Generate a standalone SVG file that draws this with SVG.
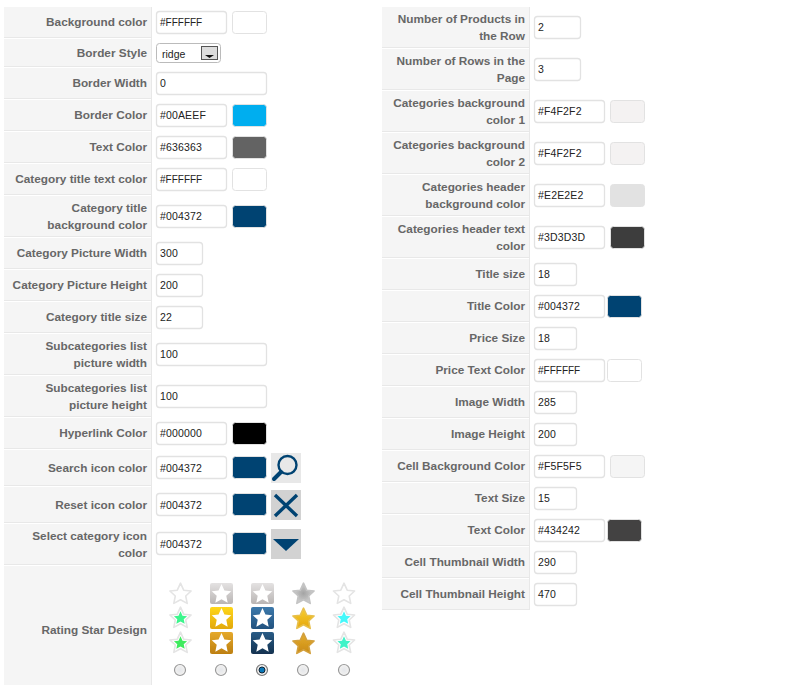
<svg xmlns="http://www.w3.org/2000/svg" width="793" height="685" viewBox="0 0 793 685">
<style>
text{font-family:"Liberation Sans",Arial,sans-serif}
.bg{fill:#f5f5f5}
.sep{stroke:#e8e8e8;stroke-width:1;fill:none}
.l{font-size:11.8px;font-weight:bold;fill:#676767;text-anchor:end}
.i{fill:#fff;stroke:#e2e2e2;stroke-width:1.3}
.v{font-size:10.5px;fill:#222;letter-spacing:.15px}
.f{font-size:10px;letter-spacing:0}
.s{stroke:#e2e2e2;stroke-width:1}
</style>
<defs>
<path id="sp" d="M0-10.8 3.2-3.8 10.6-3 5.2 2 6.700 9.400 0 5.700-6.700 9.400-5.200 2-10.600-3-3.200-3.800Z" stroke-linejoin="round"/>
<filter id="soft" x="-10%" y="-10%" width="120%" height="120%"><feGaussianBlur stdDeviation="0.4"/></filter>
<linearGradient id="gy" x1="0" y1="0" x2="0" y2="1"><stop offset="0" stop-color="#e4e2e2"/><stop offset="1" stop-color="#b9b5b4"/></linearGradient>
<linearGradient id="ye" x1="0" y1="0" x2="0" y2="1"><stop offset="0" stop-color="#ffd71a"/><stop offset="1" stop-color="#e2a80c"/></linearGradient>
<linearGradient id="or" x1="0" y1="0" x2="0" y2="1"><stop offset="0" stop-color="#e5a92b"/><stop offset="1" stop-color="#bd7f10"/></linearGradient>
<linearGradient id="bl" x1="0" y1="0" x2="0" y2="1"><stop offset="0" stop-color="#3d79ab"/><stop offset="1" stop-color="#22527f"/></linearGradient>
<linearGradient id="nv" x1="0" y1="0" x2="0" y2="1"><stop offset="0" stop-color="#2a5c86"/><stop offset="1" stop-color="#143250"/></linearGradient>
<radialGradient id="sg"><stop offset="0" stop-color="#a4a4a4"/><stop offset="1" stop-color="#cfcfcf"/></radialGradient>
<linearGradient id="sy" x1="0" y1="0" x2="0" y2="1"><stop offset="0" stop-color="#f8cf2a"/><stop offset="1" stop-color="#e5a611"/></linearGradient>
<linearGradient id="so" x1="0" y1="0" x2="0" y2="1"><stop offset="0" stop-color="#e6ae2c"/><stop offset="1" stop-color="#c98a14"/></linearGradient>
<radialGradient id="r"><stop offset="0" stop-color="#e4e6ea"/><stop offset="0.7" stop-color="#eeeeee"/><stop offset="1" stop-color="#fafafa"/></radialGradient>
<g id="radio"><circle r="5.500" fill="url(#r)" stroke="#9a9a9a" stroke-width="1.200"/></g>
</defs>
<rect width="793" height="685" fill="#fff"/>

<g id="left-rows" class="bg">
<rect x="4" y="7" width="147" height="30"/><rect x="4" y="39" width="147" height="27"/><rect x="4" y="68" width="147" height="30"/><rect x="4" y="100" width="147" height="30"/><rect x="4" y="132" width="147" height="30"/><rect x="4" y="164" width="147" height="30"/><rect x="4" y="196" width="147" height="40"/><rect x="4" y="238" width="147" height="30"/><rect x="4" y="270" width="147" height="30"/><rect x="4" y="302" width="147" height="30"/><rect x="4" y="334" width="147" height="40"/><rect x="4" y="376" width="147" height="40"/><rect x="4" y="418" width="147" height="30"/><rect x="4" y="450" width="147" height="35"/><rect x="4" y="487" width="147" height="35"/><rect x="4" y="524" width="147" height="40"/><rect x="4" y="566" width="147" height="119"/>
</g>
<g id="right-rows" class="bg">
<rect x="382" y="7" width="147" height="40"/><rect x="382" y="49" width="147" height="40"/><rect x="382" y="91" width="147" height="40"/><rect x="382" y="133" width="147" height="40"/><rect x="382" y="175" width="147" height="40"/><rect x="382" y="217" width="147" height="40"/><rect x="382" y="259" width="147" height="30"/><rect x="382" y="291" width="147" height="30"/><rect x="382" y="323" width="147" height="30"/><rect x="382" y="355" width="147" height="30"/><rect x="382" y="387" width="147" height="30"/><rect x="382" y="419" width="147" height="30"/><rect x="382" y="451" width="147" height="30"/><rect x="382" y="483" width="147" height="30"/><rect x="382" y="515" width="147" height="30"/><rect x="382" y="547" width="147" height="30"/><rect x="382" y="579" width="147" height="30"/>
</g>
<path class="sep" d="M4 37.500H151M4 66.500H151M4 98.500H151M4 130.500H151M4 162.500H151M4 194.500H151M4 236.500H151M4 268.500H151M4 300.500H151M4 332.500H151M4 374.500H151M4 416.500H151M4 448.500H151M4 485.500H151M4 522.500H151M4 564.500H151M151.500 7V685"/>
<path class="sep" d="M382 47.500H529M382 89.500H529M382 131.500H529M382 173.500H529M382 215.500H529M382 257.500H529M382 289.500H529M382 321.500H529M382 353.500H529M382 385.500H529M382 417.500H529M382 449.500H529M382 481.500H529M382 513.500H529M382 545.500H529M382 577.500H529M382 609.500H529M529.500 7V610"/>

<g id="background-color"><text class="l" x="147" y="26">Background color</text><rect class="i" x="156.500" y="11.500" width="70" height="22" rx="3"/><text class="v f" x="160" y="26">#FFFFFF</text><rect class="s" x="232.500" y="11.500" width="34" height="22" rx="3" fill="#fff"/></g>
<g id="border-style"><text class="l" x="147" y="57">Border Style</text><rect x="156.500" y="43.500" width="64" height="19" rx="3" fill="#fff" stroke="#bbb"/><text x="162" y="58" font-size="10.500" fill="#222">ridge</text><rect x="201.500" y="46.500" width="16" height="13" fill="#ddd" stroke="#555"/><path d="M205 55h9l-4.500 3z" fill="#111"/></g>
<g id="border-width"><text class="l" x="147" y="87">Border Width</text><rect class="i" x="156.500" y="72.500" width="110" height="22" rx="3"/><text class="v" x="160" y="87">0</text></g>
<g id="border-color"><text class="l" x="147" y="119">Border Color</text><rect class="i" x="156.500" y="104.500" width="70" height="22" rx="3"/><text class="v" x="160" y="119">#00AEEF</text><rect class="s" x="232.500" y="104.500" width="34" height="22" rx="3" fill="#00aeef"/></g>
<g id="text-color"><text class="l" x="147" y="151">Text Color</text><rect class="i" x="156.500" y="136.500" width="70" height="22" rx="3"/><text class="v" x="160" y="151">#636363</text><rect class="s" x="232.500" y="136.500" width="34" height="22" rx="3" fill="#636363"/></g>
<g id="category-title-text-color"><text class="l" x="147" y="183">Category title text color</text><rect class="i" x="156.500" y="168.500" width="70" height="22" rx="3"/><text class="v f" x="160" y="183">#FFFFFF</text><rect class="s" x="232.500" y="168.500" width="34" height="22" rx="3" fill="#fff"/></g>
<g id="category-title-background-color"><text class="l" x="147" y="212">Category title</text><text class="l" x="147" y="229">background color</text><rect class="i" x="156.500" y="205.500" width="70" height="22" rx="3"/><text class="v" x="160" y="220">#004372</text><rect class="s" x="232.500" y="205.500" width="34" height="22" rx="3" fill="#004372"/></g>
<g id="category-picture-width"><text class="l" x="147" y="257">Category Picture Width</text><rect class="i" x="156.500" y="242.500" width="46" height="22" rx="3"/><text class="v" x="160" y="257">300</text></g>
<g id="category-picture-height"><text class="l" x="147" y="289">Category Picture Height</text><rect class="i" x="156.500" y="274.500" width="46" height="22" rx="3"/><text class="v" x="160" y="289">200</text></g>
<g id="category-title-size"><text class="l" x="147" y="321">Category title size</text><rect class="i" x="156.500" y="306.500" width="46" height="22" rx="3"/><text class="v" x="160" y="321">22</text></g>
<g id="subcategories-width"><text class="l" x="147" y="350">Subcategories list</text><text class="l" x="147" y="367">picture width</text><rect class="i" x="156.500" y="343.500" width="110" height="22" rx="3"/><text class="v" x="160" y="358">100</text></g>
<g id="subcategories-height"><text class="l" x="147" y="392">Subcategories list</text><text class="l" x="147" y="409">picture height</text><rect class="i" x="156.500" y="385.500" width="110" height="22" rx="3"/><text class="v" x="160" y="400">100</text></g>
<g id="hyperlink-color"><text class="l" x="147" y="437">Hyperlink Color</text><rect class="i" x="156.500" y="422.500" width="70" height="22" rx="3"/><text class="v" x="160" y="437">#000000</text><rect class="s" x="232.500" y="422.500" width="34" height="22" rx="3" fill="#000"/></g>
<g id="search-icon-color"><text class="l" x="147" y="472">Search icon color</text><rect class="i" x="156.500" y="456.500" width="70" height="22" rx="3"/><text class="v" x="160" y="472">#004372</text><rect class="s" x="232.500" y="456.500" width="34" height="22" rx="3" fill="#004372"/><rect x="271" y="453" width="30" height="30" fill="#e8e8e8"/><circle cx="287.500" cy="465" r="9" fill="none" stroke="#004372" stroke-width="2.400"/><path d="M281 472 274 479" stroke="#004372" stroke-width="4" stroke-linecap="round"/></g>
<g id="reset-icon-color"><text class="l" x="147" y="509">Reset icon color</text><rect class="i" x="156.500" y="493.500" width="70" height="22" rx="3"/><text class="v" x="160" y="509">#004372</text><rect class="s" x="232.500" y="493.500" width="34" height="22" rx="3" fill="#004372"/><rect x="271" y="490" width="30" height="30" fill="#d2d2d2"/><path d="M275 495 297 516M297 495 275 516" stroke="#004372" stroke-width="3.400"/></g>
<g id="select-category-icon-color"><text class="l" x="147" y="540">Select category icon</text><text class="l" x="147" y="557">color</text><rect class="i" x="156.500" y="532.500" width="70" height="22" rx="3"/><text class="v" x="160" y="548">#004372</text><rect class="s" x="232.500" y="532.500" width="34" height="22" rx="3" fill="#004372"/><rect x="271" y="529" width="30" height="30" fill="#d2d2d2"/><path d="M273 539H299L286 551Z" fill="#004372"/></g>

<g id="rating-star-design"><text class="l" x="147" y="634">Rating Star Design</text>
<g stroke-width="1.600" filter="url(#soft)">
<use href="#sp" x="180.500" y="594" fill="#fff" stroke="#e4e4e4"/>
<use href="#sp" x="180.500" y="618" fill="#fff" stroke="#e4e4e4"/><use href="#sp" transform="translate(180.500 618) scale(.62)" fill="#3df58c" stroke="none"/>
<use href="#sp" x="180.500" y="643" fill="#fff" stroke="#e4e4e4"/><use href="#sp" transform="translate(180.500 643) scale(.62)" fill="#3fea5e" stroke="none"/>
<rect x="210" y="583" width="23" height="21" rx="2" fill="url(#gy)"/><use href="#sp" transform="translate(221.500 594) scale(.92)" fill="#fff"/>
<rect x="210" y="607" width="23" height="22" rx="2" fill="url(#ye)"/><use href="#sp" transform="translate(221.500 618) scale(.92)" fill="#fff"/>
<rect x="210" y="632" width="23" height="22" rx="2" fill="url(#or)"/><use href="#sp" transform="translate(221.500 643) scale(.92)" fill="#fff"/>
<rect x="251" y="583" width="23" height="21" rx="2" fill="url(#gy)"/><use href="#sp" transform="translate(262.500 594) scale(.92)" fill="#fff"/>
<rect x="251" y="607" width="23" height="22" rx="2" fill="url(#bl)"/><use href="#sp" transform="translate(262.500 618) scale(.92)" fill="#fff"/>
<rect x="251" y="632" width="23" height="22" rx="2" fill="url(#nv)"/><use href="#sp" transform="translate(262.500 643) scale(.92)" fill="#fff"/>
<use href="#sp" x="303.500" y="594" fill="url(#sg)" stroke="#c4c4c4"/>
<use href="#sp" x="303.500" y="619" fill="url(#sy)" stroke="#e8c04c"/>
<use href="#sp" x="303.500" y="644" fill="url(#so)" stroke="#d3a03c"/>
<use href="#sp" x="344" y="594" fill="#fff" stroke="#e4e4e4"/>
<use href="#sp" x="344" y="618" fill="#fff" stroke="#e4e4e4"/><use href="#sp" transform="translate(344 618) scale(.62)" fill="#44f8fa" stroke="none"/>
<use href="#sp" x="344" y="643" fill="#fff" stroke="#e4e4e4"/><use href="#sp" transform="translate(344 643) scale(.62)" fill="#3ff3c8" stroke="none"/>
</g>
<use href="#radio" x="180" y="670"/><use href="#radio" x="221" y="670"/>
<circle cx="262" cy="670" r="5.500" fill="#eee" stroke="#777" stroke-width="1.200"/><circle cx="262" cy="670" r="3" fill="#0a78b8" stroke="#123"/>
<use href="#radio" x="303" y="670"/><use href="#radio" x="344" y="670"/>
</g>

<g id="number-products"><text class="l" x="525" y="23">Number of Products in</text><text class="l" x="525" y="40">the Row</text><rect class="i" x="534.500" y="16.500" width="46" height="22" rx="3"/><text class="v" x="538" y="31">2</text></g>
<g id="number-rows"><text class="l" x="525" y="65">Number of Rows in the</text><text class="l" x="525" y="82">Page</text><rect class="i" x="534.500" y="58.500" width="46" height="22" rx="3"/><text class="v" x="538" y="73">3</text></g>
<g id="categories-bg-1"><text class="l" x="525" y="107">Categories background</text><text class="l" x="525" y="124">color 1</text><rect class="i" x="534.500" y="100.500" width="70" height="22" rx="3"/><text class="v" x="538" y="115">#F4F2F2</text><rect class="s" x="610.500" y="100.500" width="34" height="22" rx="3" fill="#f4f2f2"/></g>
<g id="categories-bg-2"><text class="l" x="525" y="149">Categories background</text><text class="l" x="525" y="166">color 2</text><rect class="i" x="534.500" y="142.500" width="70" height="22" rx="3"/><text class="v" x="538" y="157">#F4F2F2</text><rect class="s" x="610.500" y="142.500" width="34" height="22" rx="3" fill="#f4f2f2"/></g>
<g id="categories-header-bg"><text class="l" x="525" y="191">Categories header</text><text class="l" x="525" y="208">background color</text><rect class="i" x="534.500" y="184.500" width="70" height="22" rx="3"/><text class="v" x="538" y="199">#E2E2E2</text><rect class="s" x="610.500" y="184.500" width="34" height="22" rx="3" fill="#e2e2e2"/></g>
<g id="categories-header-text"><text class="l" x="525" y="233">Categories header text</text><text class="l" x="525" y="250">color</text><rect class="i" x="534.500" y="226.500" width="70" height="22" rx="3"/><text class="v" x="538" y="241">#3D3D3D</text><rect class="s" x="610.500" y="226.500" width="34" height="22" rx="3" fill="#3d3d3d"/></g>
<g id="title-size"><text class="l" x="525" y="278">Title size</text><rect class="i" x="534.500" y="263.500" width="42" height="22" rx="3"/><text class="v" x="538" y="278">18</text></g>
<g id="title-color"><text class="l" x="525" y="310">Title Color</text><rect class="i" x="534.500" y="295.500" width="70" height="22" rx="3"/><text class="v" x="538" y="310">#004372</text><rect class="s" x="607.500" y="295.500" width="34" height="22" rx="3" fill="#004372"/></g>
<g id="price-size"><text class="l" x="525" y="342">Price Size</text><rect class="i" x="534.500" y="327.500" width="42" height="22" rx="3"/><text class="v" x="538" y="342">18</text></g>
<g id="price-text-color"><text class="l" x="525" y="374">Price Text Color</text><rect class="i" x="534.500" y="359.500" width="70" height="22" rx="3"/><text class="v f" x="538" y="374">#FFFFFF</text><rect class="s" x="607.500" y="359.500" width="34" height="22" rx="3" fill="#fff"/></g>
<g id="image-width"><text class="l" x="525" y="406">Image Width</text><rect class="i" x="534.500" y="391.500" width="42" height="22" rx="3"/><text class="v" x="538" y="406">285</text></g>
<g id="image-height"><text class="l" x="525" y="438">Image Height</text><rect class="i" x="534.500" y="423.500" width="42" height="22" rx="3"/><text class="v" x="538" y="438">200</text></g>
<g id="cell-background-color"><text class="l" x="525" y="470">Cell Background Color</text><rect class="i" x="534.500" y="455.500" width="70" height="22" rx="3"/><text class="v" x="538" y="470">#F5F5F5</text><rect class="s" x="610.500" y="455.500" width="34" height="22" rx="3" fill="#f5f5f5"/></g>
<g id="text-size"><text class="l" x="525" y="502">Text Size</text><rect class="i" x="534.500" y="487.500" width="42" height="22" rx="3"/><text class="v" x="538" y="502">15</text></g>
<g id="text-color-r"><text class="l" x="525" y="534">Text Color</text><rect class="i" x="534.500" y="519.500" width="70" height="22" rx="3"/><text class="v" x="538" y="534">#434242</text><rect class="s" x="607.500" y="519.500" width="34" height="22" rx="3" fill="#434242"/></g>
<g id="cell-thumb-width"><text class="l" x="525" y="566">Cell Thumbnail Width</text><rect class="i" x="534.500" y="551.500" width="42" height="22" rx="3"/><text class="v" x="538" y="566">290</text></g>
<g id="cell-thumb-height"><text class="l" x="525" y="598">Cell Thumbnail Height</text><rect class="i" x="534.500" y="583.500" width="42" height="22" rx="3"/><text class="v" x="538" y="598">470</text></g>
<g id="connectors"/>
</svg>
